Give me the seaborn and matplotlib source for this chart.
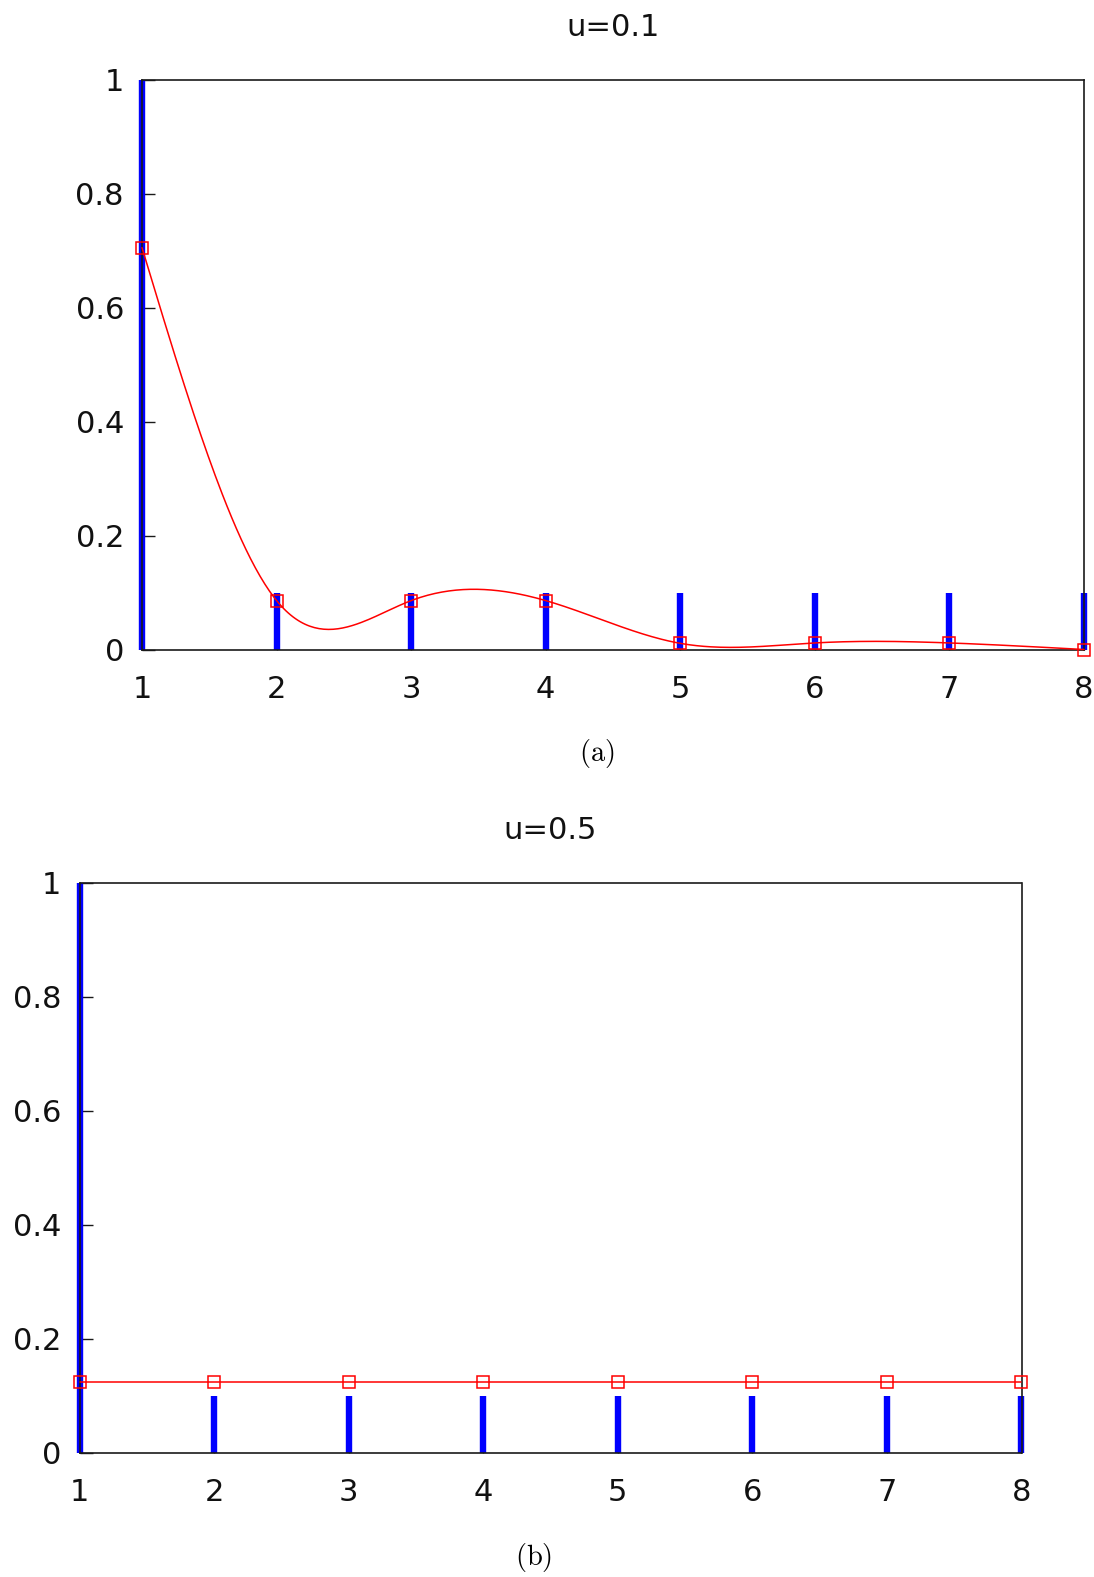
import numpy as np
import pandas as pd
import matplotlib
matplotlib.use("Agg")
import matplotlib.pyplot as plt
import seaborn as sns

# Support positions and impulse heights
positions = [1, 2, 3, 4, 5, 6, 7, 8]
impulses = [1.0, 0.1, 0.1, 0.1, 0.1, 0.1, 0.1, 0.1]

# Probability values for each u
prob_u01 = [0.705, 0.0858, 0.0858, 0.0858, 0.0108, 0.0115, 0.0115, 0.0]
prob_u05 = [0.125, 0.125, 0.125, 0.125, 0.125, 0.125, 0.125, 0.125]

panel_titles = ["u=0.1", "u=0.5"]
captions = ["(a)", "(b)"]
y_ticks = [0, 0.2, 0.4, 0.6, 0.8, 1]
y_tick_labels = ["0", "0.2", "0.4", "0.6", "0.8", "1"]

sns.set_theme(style="white")
plt.rcParams["font.family"] = ["DejaVu Sans"]
plt.rcParams["mathtext.fontset"] = "cm"


def natural_spline(x, y, n=400):
    """Natural cubic spline through (x, y), evaluated on a fine grid."""
    x = np.asarray(x, float)
    y = np.asarray(y, float)
    k = len(x)
    h = np.diff(x)
    A = np.zeros((k, k))
    b = np.zeros(k)
    A[0, 0] = A[-1, -1] = 1.0
    for i in range(1, k - 1):
        A[i, i - 1] = h[i - 1]
        A[i, i] = 2 * (h[i - 1] + h[i])
        A[i, i + 1] = h[i]
        b[i] = 6 * ((y[i + 1] - y[i]) / h[i] - (y[i] - y[i - 1]) / h[i - 1])
    M = np.linalg.solve(A, b)
    xs = np.linspace(x[0], x[-1], n)
    idx = np.clip(np.searchsorted(x, xs) - 1, 0, k - 2)
    x0, x1 = x[idx], x[idx + 1]
    hh = x1 - x0
    t0 = x1 - xs
    t1 = xs - x0
    ys = (M[idx] * t0 ** 3 / (6 * hh) + M[idx + 1] * t1 ** 3 / (6 * hh)
          + (y[idx] / hh - M[idx] * hh / 6) * t0
          + (y[idx + 1] / hh - M[idx + 1] * hh / 6) * t1)
    return xs, ys


W, H = 1094, 1577
fig = plt.figure(figsize=(W / 100, H / 100), dpi=100)

# axes boxes in pixels: left, top, right, bottom
boxes = [(142, 79.5, 1084, 649.5), (79.5, 883, 1021.5, 1453)]
caption_pos = [(597, 754), (534, 1557)]
series = [prob_u01, prob_u05]
smooth = [True, False]

for k in range(2):
    l, t, r, btm = boxes[k]
    ax = fig.add_axes([l / W, 1 - btm / H, (r - l) / W, (btm - t) / H])
    ax.set_xlim(1, 8)
    ax.set_ylim(0, 1)

    # impulses
    ax.vlines(positions, 0, impulses, colors="#0000ff", linewidth=4.6,
              zorder=2, clip_on=False)

    df = pd.DataFrame({"x": positions, "p": series[k]})
    if smooth[k]:
        xs, ys = natural_spline(positions, series[k])
        curve = pd.DataFrame({"x": xs, "p": ys})
    else:
        curve = df
    sns.lineplot(data=curve, x="x", y="p", ax=ax, color="red",
                 linewidth=1.1, zorder=3, clip_on=False)
    sns.lineplot(data=df, x="x", y="p", ax=ax, linestyle="", marker="s",
                 markersize=8.5, markerfacecolor="none",
                 markeredgecolor="red", markeredgewidth=1.1,
                 zorder=4, clip_on=False)

    for side, sp in ax.spines.items():
        sp.set_visible(True)
        sp.set_color("#1a1a1a")
        sp.set_linewidth(1.2)
        sp.set_zorder(2.5)

    ax.set_xticks(positions)
    ax.set_xticklabels([str(p) for p in positions])
    ax.set_yticks(y_ticks)
    ax.set_yticklabels(y_tick_labels)
    ax.tick_params(axis="both", which="major", direction="in", length=9,
                   width=1.0, color="#1a1a1a", labelsize=22,
                   labelcolor="#111111", bottom=True, left=True,
                   top=False, right=False)
    ax.tick_params(axis="y", pad=13)
    ax.tick_params(axis="x", pad=18)
    ax.set_xlabel("")
    ax.set_ylabel("")
    ax.grid(False)

    ax.set_title(panel_titles[k], fontsize=22, color="#111111",
                 y=1 + 52 / 570, va="center", pad=0)

    cx, cy = caption_pos[k]
    fig.text(cx / W, 1 - cy / H, r"$\mathrm{" + captions[k] + "}$",
             fontsize=20.5, ha="center", va="center", color="black")

fig.savefig("out.png", dpi=100, facecolor="white")
